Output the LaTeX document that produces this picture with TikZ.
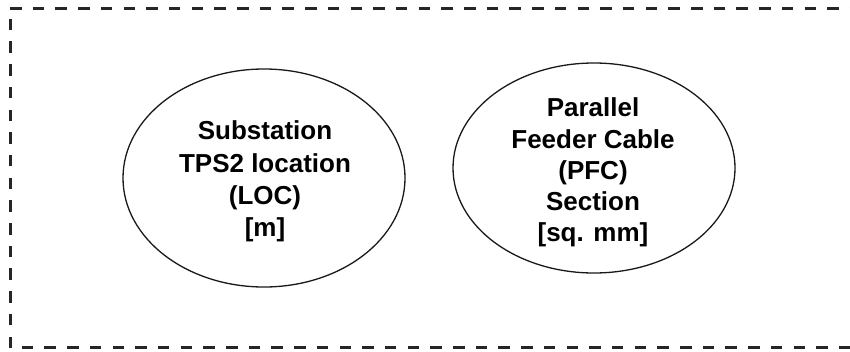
\documentclass[tikz,border=0pt]{standalone}
\usepackage{fontspec}
\setmainfont{Liberation Sans}
\usetikzlibrary{shapes.geometric}

\tikzset{
  frameline/.style={line width=3pt, draw=black!85, dash pattern=on 11.5pt off 11.2pt},
  bubble/.style={ellipse, draw=black!90, line width=1.3pt, inner sep=0pt},
  bubbletext/.style={align=center, inner sep=0pt,
    font=\bfseries\fontsize{26}{32.3}\selectfont},
}

\begin{document}
\begin{tikzpicture}[x=1pt, y=-1pt]
  \useasboundingbox (0,0) rectangle (850,351);
  \clip (0,0) rectangle (850,351);

  % dashed frame (its right side lies beyond the page)
  \draw[frameline] (10,8) -- (880,8);
  \draw[frameline] (10.5,348) -- (10.5,8);
  \draw[frameline] (21.7,347.5) -- (880,347.5);

  % substation location
  \node[bubble, minimum width=282pt, minimum height=218pt] (loc) at (264,178) {};
  \node[bubbletext] (loctext) at (265,181.5)
    {Substation\\TPS2 location\\(LOC)\\{}[m]};

  % parallel feeder cable section
  \node[bubble, minimum width=282pt, minimum height=210pt] (pfc) at (594,168) {};
  \node[bubbletext, font=\bfseries\fontsize{26}{31.2}\selectfont] (pfctext) at (593,172.5)
    {Parallel\\Feeder Cable\\(PFC)\\Section\\{}[sq. mm]};
\end{tikzpicture}
\end{document}
